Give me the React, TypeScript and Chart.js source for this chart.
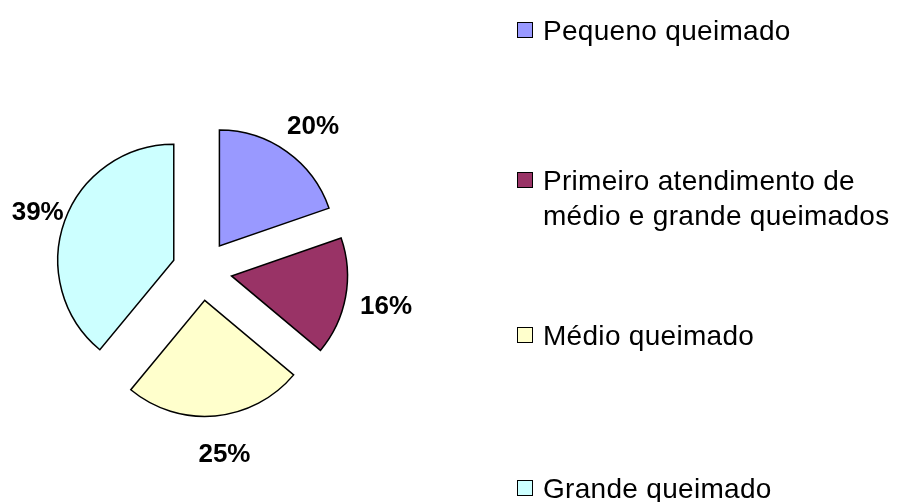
import React, { useEffect, useRef } from 'react';
import { Chart, registerables } from 'chart.js';

Chart.register(...registerables);

// ---- data ----
const categories = [
  'Pequeno queimado',
  'Primeiro atendimento de médio e grande queimados',
  'Médio queimado',
  'Grande queimado',
];
const legendLines = [
  ['Pequeno queimado'],
  ['Primeiro atendimento de', 'médio e grande queimados'],
  ['Médio queimado'],
  ['Grande queimado'],
];
const values = [19.7, 16.4, 24.9, 39.0];
const colors = ['#9999FF', '#993366', '#FFFFCC', '#CCFFFF'];

// ---- layout constants ----
const W = 898;
const H = 502;
const RADIUS = 116;
const EXPLODE = 30;
const LABEL_DIST = 181;
const LABEL_SHIFT_X = 6;
const LABEL_SHIFT_Y = 4;
const LEGEND_BASELINES = [40, 190, 345, 498];
const LEGEND_FONT = 28;
const LEGEND_LINE = 35;

const explodePlugin = {
  id: 'explodeDraw',
  beforeDatasetDraw(chart: any, args: any) {
    const ctx = chart.ctx;
    for (const arc of args.meta.data) {
      const mid = (arc.startAngle + arc.endAngle) / 2;
      ctx.save();
      ctx.translate(Math.cos(mid) * EXPLODE, Math.sin(mid) * EXPLODE);
      arc.draw(ctx, chart.chartArea);
      ctx.restore();
    }
    return false;
  },
};

const labelPlugin = {
  id: 'pctLabels',
  afterDatasetsDraw(chart: any) {
    const ctx = chart.ctx;
    const meta = chart.getDatasetMeta(0);
    const data = chart.data.datasets[0].data as number[];
    const total = data.reduce((a, b) => a + b, 0);
    ctx.save();
    ctx.font = 'bold 26px "Liberation Sans", Arial, sans-serif';
    ctx.fillStyle = '#000';
    ctx.textAlign = 'center';
    ctx.textBaseline = 'middle';
    meta.data.forEach((arc: any, i: number) => {
      const mid = (arc.startAngle + arc.endAngle) / 2;
      const x = arc.x + Math.cos(mid) * LABEL_DIST + LABEL_SHIFT_X;
      const y = arc.y + Math.sin(mid) * LABEL_DIST + LABEL_SHIFT_Y;
      ctx.fillText(Math.round((data[i] / total) * 100) + '%', x, y);
    });
    ctx.restore();
  },
};

export default function App() {
  const ref = useRef<HTMLCanvasElement>(null);
  useEffect(() => {
    if (!ref.current) return;
    const chart = new Chart(ref.current, {
      type: 'pie',
      data: {
        labels: categories,
        datasets: [
          {
            data: values,
            backgroundColor: colors,
            borderColor: '#000000',
            borderWidth: 1.5,
            borderJoinStyle: 'miter',
            radius: RADIUS,
          } as any,
        ],
      },
      options: {
        responsive: false,
        animation: false,
        devicePixelRatio: 1,
        events: [],
        layout: { padding: { left: 1, top: 39, right: W - 403, bottom: 0 } },
        plugins: {
          legend: { display: false },
          tooltip: { enabled: false },
          title: { display: false },
        },
      } as any,
      plugins: [explodePlugin, labelPlugin],
    });
    return () => chart.destroy();
  }, []);

  return (
    <div
      style={{
        position: 'fixed',
        left: 0,
        top: 0,
        width: W,
        height: H,
        background: '#fff',
        fontFamily: '"Liberation Sans", Arial, sans-serif',
      }}
    >
      <canvas ref={ref} width={W} height={H} style={{ position: 'absolute', left: 0, top: 0 }} />
      {legendLines.map((lines, i) => {
        const base = LEGEND_BASELINES[i];
        const half = (LEGEND_LINE - LEGEND_FONT * 1.117) / 2 + LEGEND_FONT * 0.905;
        return (
          <React.Fragment key={i}>
            <div
              style={{
                position: 'absolute',
                left: 517,
                top: base - 18,
                width: 14,
                height: 14,
                border: '1px solid #000',
                background: colors[i],
              }}
            />
            <div
              style={{
                position: 'absolute',
                left: 543,
                top: base - half,
                fontSize: LEGEND_FONT,
                lineHeight: LEGEND_LINE + 'px',
                letterSpacing: '0.3px',
                color: '#000',
                whiteSpace: 'nowrap',
              }}
            >
              {lines.map((l, j) => (
                <div key={j}>{l}</div>
              ))}
            </div>
          </React.Fragment>
        );
      })}
    </div>
  );
}
